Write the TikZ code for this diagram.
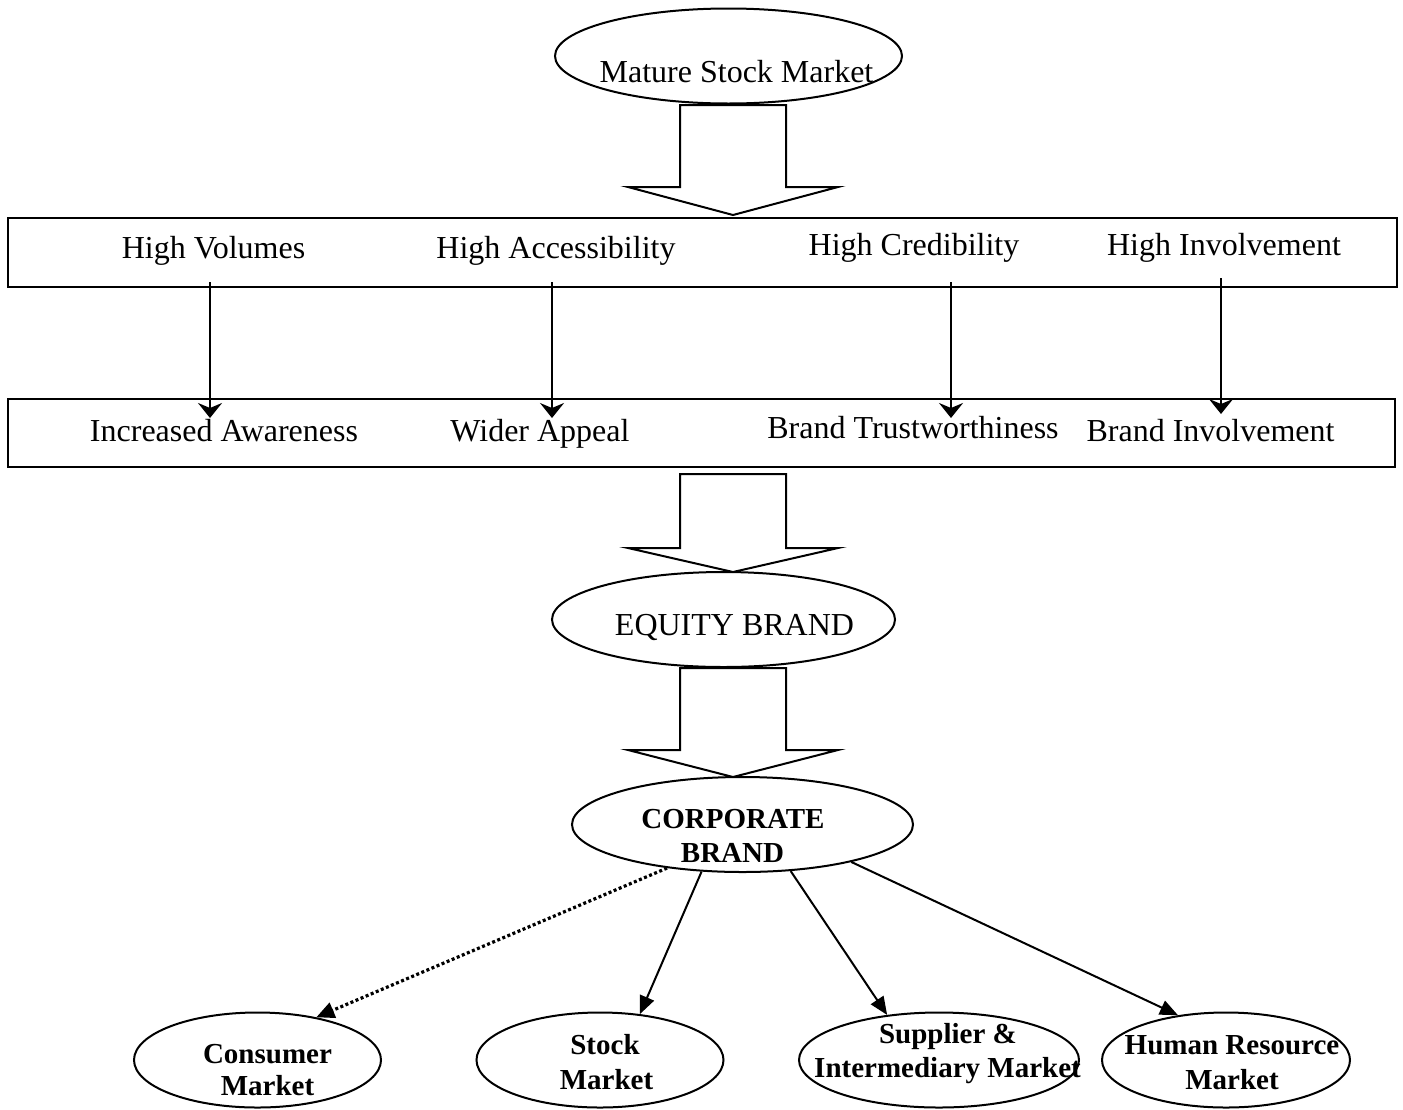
\documentclass[tikz,border=0pt]{standalone}
\usepackage{fontspec}
\setmainfont{Liberation Serif}
\usetikzlibrary{shapes.geometric,arrows.meta}
\begin{document}
\begin{tikzpicture}[x=1pt,y=-1pt,
  lw/.style={line width=2pt},
  oval/.style={draw,lw,ellipse,inner sep=0pt},
  boxrow/.style={draw,line width=2.4pt,rectangle,inner sep=0pt},
  txt/.style={anchor=base,inner sep=0pt,font=\fontsize{32}{36}\selectfont},
  btxt/.style={anchor=base,inner sep=0pt,font=\fontsize{29}{34}\selectfont\bfseries},
  varrow/.style={lw,-{Stealth[length=15pt,width=24pt,inset=5pt]}},
  barrow/.style={lw,-{Triangle[length=18pt,width=15pt]}},
  darrow/.style={line width=3.2pt,dash pattern=on 3pt off 2.5pt,-{Triangle[length=18pt,width=16pt]}},
  blockarrow/.style={lw,line join=miter}
]
\useasboundingbox (0,0) rectangle (1403,1109);

% top ellipse
\node[oval,minimum width=347pt,minimum height=95pt] (mature) at (728.5,56) {};
\node[txt] (maturet) at (736.5,82) {Mature Stock Market};

% block arrow 1
\draw[blockarrow] (680,105) -- (680,187) -- (628,187) -- (733,215) -- (838,187) -- (786,187) -- (786,105) -- cycle;

% box row 1
\node[boxrow,minimum width=1389pt,minimum height=69pt] (box1) at (702.5,252.5) {};
\node[txt] (hv) at (213.5,258) {High Volumes};
\node[txt] (ha) at (556,258) {High Accessibility};
\node[txt] (hc) at (914,255) {High Credibility};
\node[txt] (hi) at (1224,255) {High Involvement};

% box row 2
\node[boxrow,minimum width=1387pt,minimum height=68pt] (box2) at (701.5,433) {};
\node[txt] (ia) at (224,441) {Increased Awareness};
\node[txt] (wa) at (540,441) {Wider Appeal};
\node[txt] (bt) at (913,438) {Brand Trustworthiness};
\node[txt] (bi) at (1210.5,441) {Brand Involvement};

% vertical arrows
\coordinate (s1) at (210,282); \coordinate (e1) at (210,418);
\coordinate (s2) at (552,282); \coordinate (e2) at (552,418);
\coordinate (s3) at (951,282); \coordinate (e3) at (951,418);
\coordinate (s4) at (1221,278); \coordinate (e4) at (1221,414);
\draw[varrow] (s1) -- (e1);
\draw[varrow] (s2) -- (e2);
\draw[varrow] (s3) -- (e3);
\draw[varrow] (s4) -- (e4);

% block arrow 2
\draw[blockarrow] (680,474) -- (680,548) -- (628,548) -- (733,572) -- (838,548) -- (786,548) -- (786,474) -- cycle;

% equity brand
\node[oval,minimum width=343pt,minimum height=95pt] (equity) at (723.5,619.5) {};
\node[txt] (equityt) at (734.5,635) {EQUITY BRAND};

% block arrow 3
\draw[blockarrow] (680,668) -- (680,750) -- (628,750) -- (733,777) -- (838,750) -- (786,750) -- (786,668) -- cycle;

% corporate brand
\node[oval,minimum width=341pt,minimum height=95pt] (corp) at (742.5,824.5) {};
\node[btxt] (corpt1) at (733,828) {CORPORATE};
\node[btxt] (corpt2) at (732.5,862) {BRAND};

% bottom ellipses
\node[oval,minimum width=247pt,minimum height=95pt] (cons) at (257.5,1060) {};
\node[btxt] (const1) at (267.5,1063) {Consumer};
\node[btxt] (const2) at (267.5,1095) {Market};

\node[oval,minimum width=247pt,minimum height=95pt] (stock) at (600,1060) {};
\node[btxt] (stockt1) at (605,1054) {Stock};
\node[btxt] (stockt2) at (606.5,1089) {Market};

\node[oval,minimum width=280pt,minimum height=95pt] (supp) at (939,1060) {};
\node[btxt] (suppt1) at (948,1043) {Supplier \&};
\node[btxt] (suppt2) at (947.5,1077) {Intermediary Market};

\node[oval,minimum width=248pt,minimum height=95pt] (hr) at (1226,1060) {};
\node[btxt] (hrt1) at (1232,1054) {Human Resource};
\node[btxt] (hrt2) at (1232,1089) {Market};

% connectors from corporate brand
\draw[darrow] (corp.210.4) -- (cons.36.6);
\draw[barrow] (corp.229.9) -- (stock.49.1);
\draw[barrow] (corp.316.8) -- (supp.139.9);
\draw[barrow] (corp.341.1) -- (hr.137.3);
\end{tikzpicture}
\end{document}
